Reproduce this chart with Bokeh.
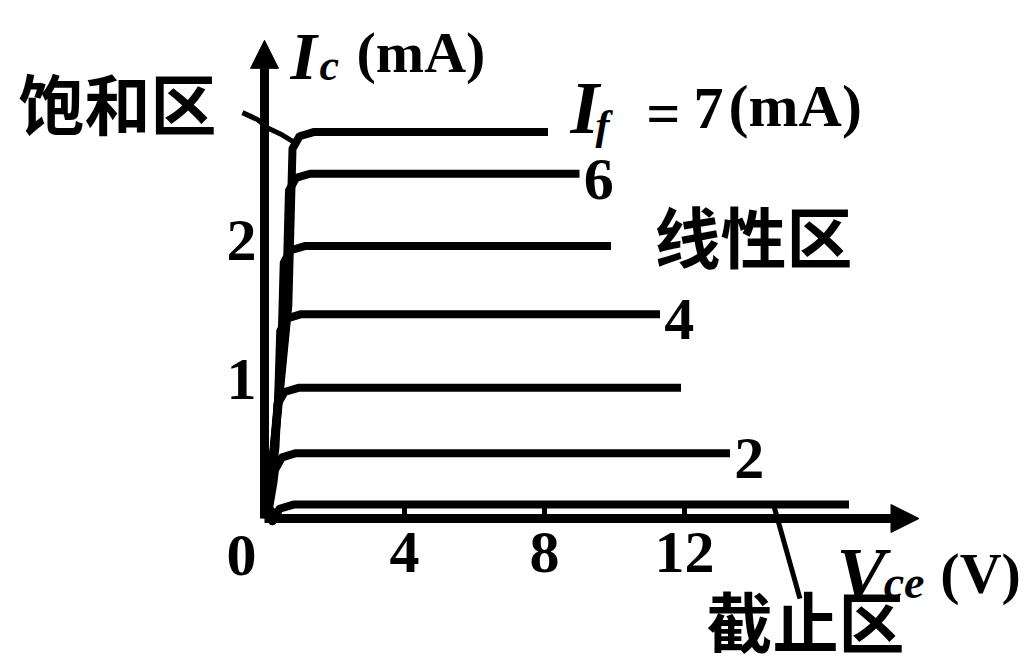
from bokeh.plotting import figure
from bokeh.models import FixedTicker, Arrow, NormalHead
from bokeh.core.properties import value
from bokeh.embed import file_html
from bokeh.resources import INLINE

# ---- data ----
if_ma = [7, 6, 5, 4, 3, 2, 1]                         # light (LED) current, mA
ic_ma = [2.78, 2.48, 1.96, 1.47, 0.94, 0.47, 0.10]     # collector current plateau, mA
v_end = [8.1, 9.0, 9.9, 11.3, 11.9, 13.3, 16.7]        # where each drawn curve ends, V
v_knee = [0.80, 0.70, 0.55, 0.45, 0.37, 0.30, 0.23]    # knee (saturation) voltage, V
labelled = [6, 4, 2]                                   # curves carrying a number
x_ticks = [4, 8, 12]
y_ticks = [1, 2]
v_cutoff = 14.55

SERIF = value("Liberation Serif")
CJK = value("Noto Sans CJK SC")

p = figure(width=1030, height=669, x_range=(-7.543, 21.886), y_range=(-1.0863, 3.7266),
           output_backend="svg", toolbar_location=None, min_border=0,
           background_fill_color="white", border_fill_color="white")
p.outline_line_color = None
p.grid.visible = False

# axes crossing at the origin
for ax in (p.xaxis, p.yaxis):
    ax.fixed_location = 0
    ax.axis_line_width = 9
    ax.axis_line_color = "black"
    ax.major_label_text_font = "Liberation Serif"
    ax.major_label_text_font_style = "bold"
    ax.major_label_text_font_size = "60px"
    ax.major_label_text_color = "black"
    ax.minor_tick_line_color = None
p.xaxis.ticker = FixedTicker(ticks=x_ticks)
p.xaxis.bounds = (0, 18.0)
p.xaxis.major_tick_in = 14
p.xaxis.major_tick_out = 0
p.xaxis.major_tick_line_width = 5
p.xaxis.major_label_standoff = 14
p.yaxis.ticker = FixedTicker(ticks=y_ticks)
p.yaxis.bounds = (0, 3.1)
p.yaxis.major_tick_in = 0
p.yaxis.major_tick_out = 0
p.yaxis.major_tick_line_color = None
p.yaxis.major_label_standoff = 8

# axis arrows
p.add_layout(Arrow(end=NormalHead(size=28, fill_color="black", line_color="black"),
                   x_start=17.5, y_start=0, x_end=18.7, y_end=0,
                   line_width=9, line_color="black"))
p.add_layout(Arrow(end=NormalHead(size=28, fill_color="black", line_color="black"),
                   x_start=0, y_start=3.0, x_end=0, y_end=3.44,
                   line_width=9, line_color="black"))

# characteristic curves
xs, ys = [], []
for ic, ve, vk in zip(ic_ma, v_end, v_knee):
    xs.append([0.08, vk * 0.85, vk, vk + 0.2, vk + 0.6, ve])
    ys.append([0.0, ic * 0.55, ic - 0.12, ic - 0.03, ic, ic])
p.multi_line(xs, ys, line_width=8, line_color="black", line_join="round")

# curve numbers
lx = [v_end[if_ma.index(k)] + 0.55 for k in labelled]
ly = [ic_ma[if_ma.index(k)] - 0.04 for k in labelled]
p.text(lx, ly, text=[str(k) for k in labelled], text_font=SERIF, text_font_style="bold",
       text_font_size=value("60px"), text_align="center", text_baseline="middle",
       color="black")

# I_f = 7 (mA)
i7 = if_ma.index(7)
x7, y7 = v_end[i7], ic_ma[i7]
p.text([x7 + 0.64], [y7 + 0.17], text=["I"], text_font=SERIF,
       text_font_style="bold italic", text_font_size=value("74px"),
       text_baseline="middle", color="black")
p.text([x7 + 1.36], [y7 + 0.05], text=["f"], text_font=SERIF,
       text_font_style="bold italic", text_font_size=value("42px"),
       text_baseline="middle", color="black")
p.text([x7 + 2.81, x7 + 4.16, x7 + 5.16], [y7 + 0.14, y7 + 0.17, y7 + 0.19],
       text=["=", str(if_ma[i7]), "(mA)"], text_font=SERIF, text_font_style="bold",
       text_font_size=value("60px"), text_baseline="middle", color="black")

# y axis title I_c (mA)
p.text([0.74], [3.33], text=["I"], text_font=SERIF, text_font_style="bold italic",
       text_font_size=value("68px"), text_baseline="middle", color="black")
p.text([1.57], [3.26], text=["c"], text_font=SERIF, text_font_style="bold italic",
       text_font_size=value("44px"), text_baseline="middle", color="black")
p.text([2.63], [3.35], text=["(mA)"], text_font=SERIF, text_font_style="bold",
       text_font_size=value("58px"), text_baseline="middle", color="black")

# x axis title V_ce (V)
p.text([16.34], [-0.396], text=["V"], text_font=SERIF, text_font_style="bold italic",
       text_font_size=value("74px"), text_baseline="middle", color="black")
p.text([17.69], [-0.46], text=["ce"], text_font=SERIF, text_font_style="bold italic",
       text_font_size=value("46px"), text_baseline="middle", color="black")
p.text([19.31], [-0.396], text=["(V)"], text_font=SERIF, text_font_style="bold",
       text_font_size=value("58px"), text_baseline="middle", color="black")

# origin label
p.text([-0.657], [-0.266], text=["0"], text_font=SERIF, text_font_style="bold",
       text_font_size=value("60px"), text_align="center", text_baseline="middle",
       color="black")

# region names
p.text([-4.2, 13.97, 15.46], [3.0, 2.05, -0.72], text=["饱和区", "线性区", "截止区"],
       text_font=CJK, text_font_style="bold", text_font_size=value("66px"),
       text_align="center", text_baseline="middle", color="black")

# pointers to regions
p.line([-0.63, -0.2, 0.09, 0.5, 0.89], [2.92, 2.87, 2.81, 2.76, 2.70],
       line_width=5, line_color="black")
p.line([v_cutoff, v_cutoff + 0.75], [0.094, -0.576], line_width=5, line_color="black")

open("out.html", "w").write(file_html(p, INLINE))
